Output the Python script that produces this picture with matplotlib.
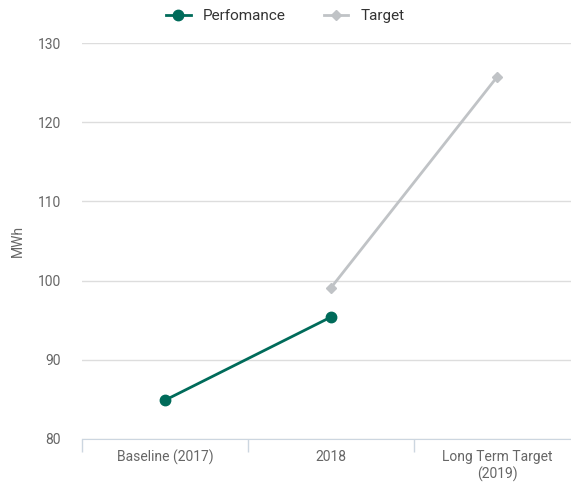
import matplotlib
matplotlib.use("Agg")
import matplotlib.pyplot as plt
from matplotlib.ticker import FixedLocator

categories = ["Baseline (2017)", "2018", "Long Term Target\n(2019)"]
perf_values = [84.9, 95.4]
target_values = [99.1, 125.7]
perf_idx = [0, 1]
target_idx = [1, 2]
yticks = [80, 90, 100, 110, 120, 130]

plt.rcParams['font.family'] = ['Roboto', 'DejaVu Sans']

fig = plt.figure(figsize=(5.71, 4.88), dpi=100)
ax = fig.add_axes([82/571, 49/488, 498/571, (439-43)/488])

text_c = '#666666'
ax.plot(perf_idx, perf_values, color='#006b5a', lw=2, marker='o', ms=7.5,
        label='Perfomance', zorder=3)
ax.plot(target_idx, target_values, color='#c0c3c6', lw=2, marker='D', ms=5,
        label='Target', zorder=2)

ax.set_xlim(-0.5, 2.5)
ax.set_ylim(80, 130)
ax.set_yticks(yticks)
ax.set_xticks(range(len(categories)))
ax.set_xticklabels(categories, color=text_c, fontsize=10)
ax.tick_params(axis='x', which='major', length=0, pad=8)
ax.xaxis.set_minor_locator(FixedLocator([-0.5, 0.5, 1.5, 2.5]))
ax.tick_params(axis='x', which='minor', length=9, color='#ccd6e0', width=1)
ax.tick_params(axis='y', length=0, pad=15, labelcolor=text_c, labelsize=10)
ax.grid(axis='y', color='#dddddd', lw=1)
ax.set_axisbelow(True)
for s in ['top', 'right', 'left']:
    ax.spines[s].set_visible(False)
ax.spines['bottom'].set_color('#ccd6e0')
ax.set_ylabel('MWh', color=text_c, fontsize=10)
ax.yaxis.set_label_coords((25 - 82) / 498, 0.5)

fig.legend(loc='upper center', bbox_to_anchor=(0.5, 1.01), ncol=2, frameon=False,
           fontsize=11, handlelength=1.6, columnspacing=2.5, labelcolor='#333333')
fig.savefig('out.png', dpi=100)
